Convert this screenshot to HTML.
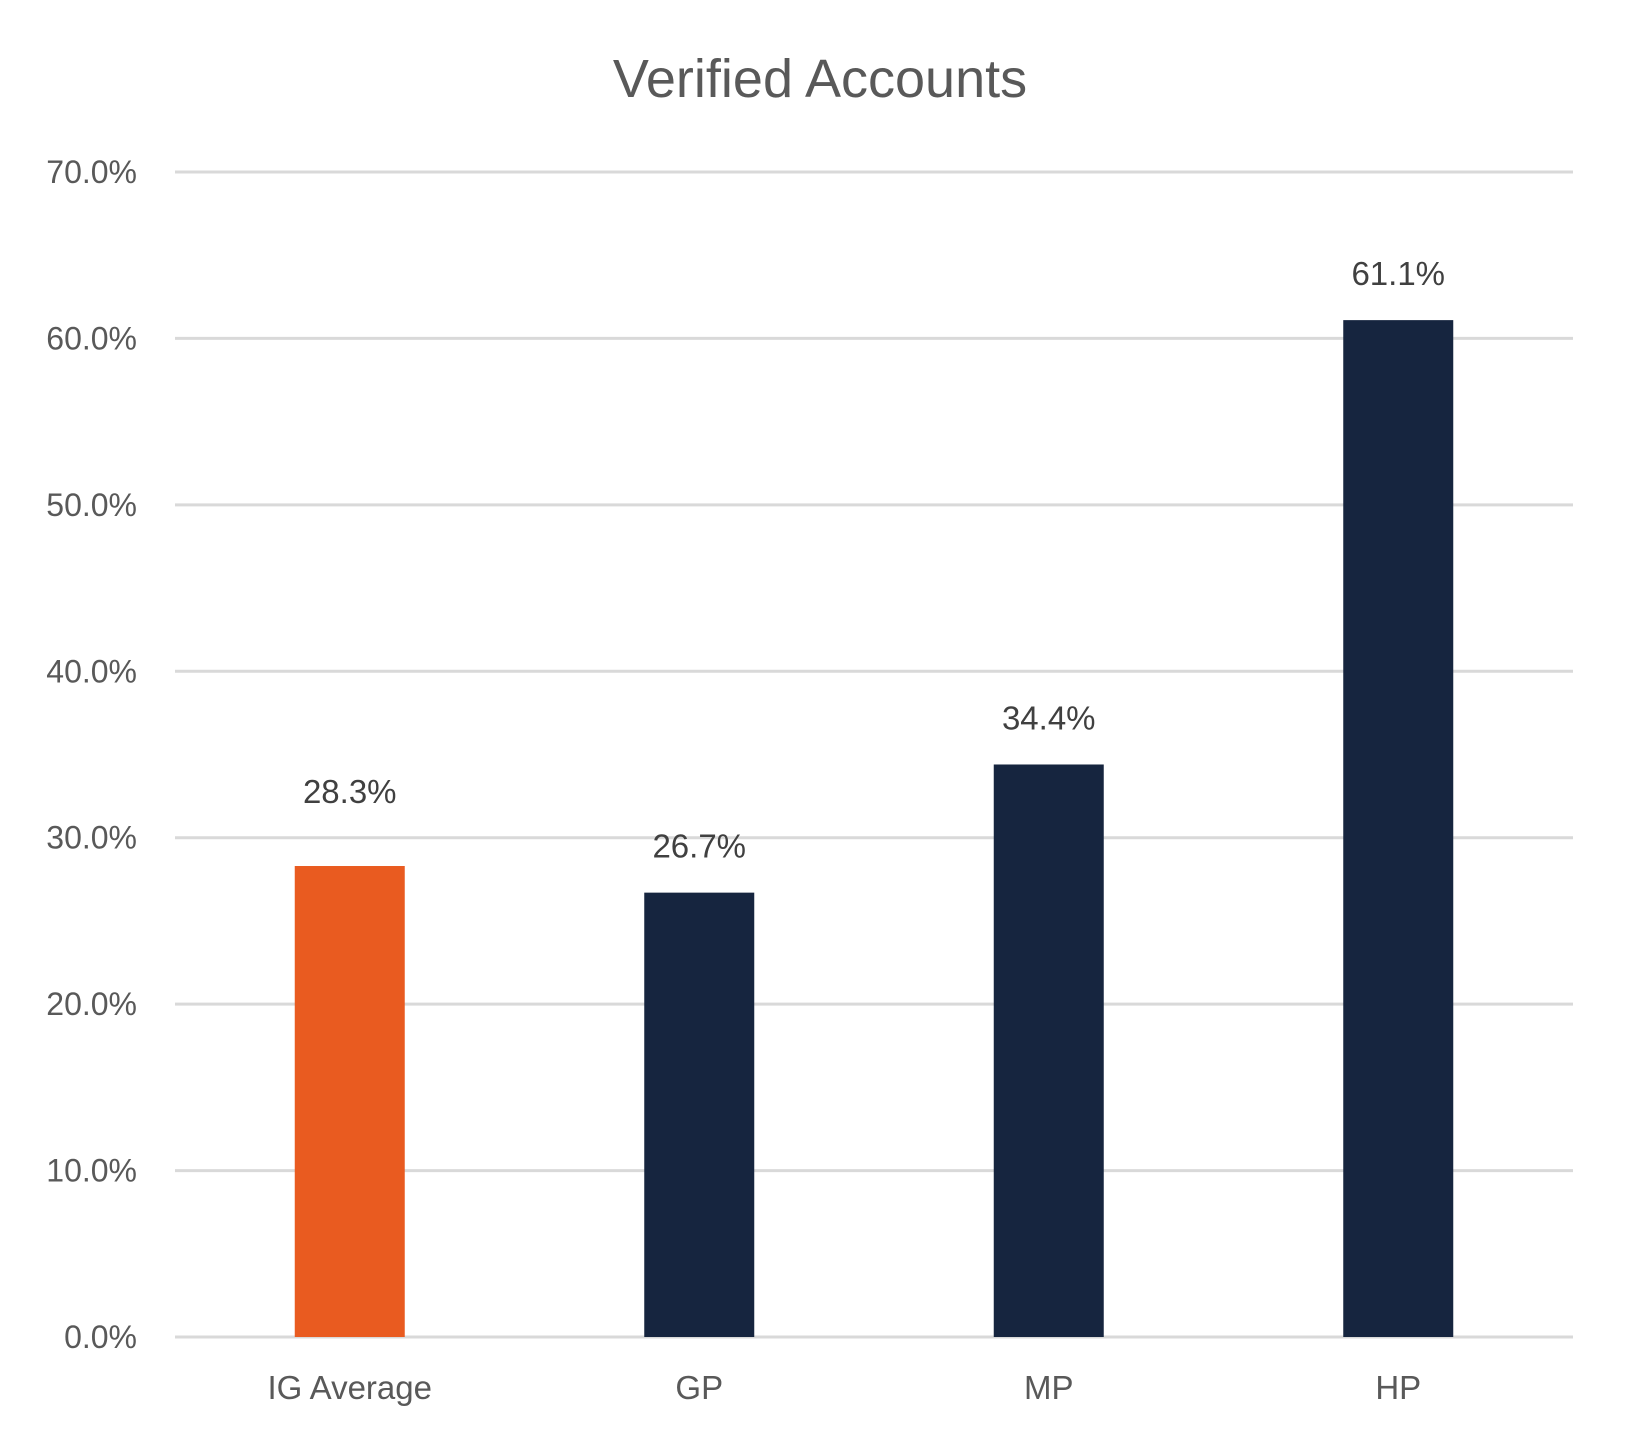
<!DOCTYPE html>
<html><head><meta charset="utf-8"><style>
body{margin:0;background:#fff;}
svg{display:block;font-family:"Liberation Sans","DejaVu Sans",sans-serif;}
</style></head><body>
<svg id="chart" width="1631" height="1448" viewBox="0 0 1631 1448" xmlns="http://www.w3.org/2000/svg">
<rect width="1631" height="1448" fill="#fff"/>
<text x="820" y="97" text-anchor="middle" font-size="54" fill="#595959">Verified Accounts</text>
<g id="grid"></g><g id="bars"></g><g id="labels"></g>
</svg>
<script>
const categories = ["IG Average", "GP", "MP", "HP"];
const values = [28.3, 26.7, 34.4, 61.1];
const valueLabels = ["28.3%", "26.7%", "34.4%", "61.1%"];
const barColors = ["#E95B20", "#16253F", "#16253F", "#16253F"];
const ticks = [0, 10, 20, 30, 40, 50, 60, 70];
const tickLabels = ["0.0%", "10.0%", "20.0%", "30.0%", "40.0%", "50.0%", "60.0%", "70.0%"];

const NS = "http://www.w3.org/2000/svg";
const plotL = 175, plotR = 1573, plotT = 172, plotB = 1337, yMax = 70;
const yScale = v => plotB - (v / yMax) * (plotB - plotT);
const band = (plotR - plotL) / categories.length;
const xc = i => plotL + band * (i + 0.5);
const bw = 110;
function mk(tag, attrs, parent) {
  const e = document.createElementNS(NS, tag);
  for (const k in attrs) e.setAttribute(k, attrs[k]);
  parent.appendChild(e);
  return e;
}
const gridG = document.getElementById("grid"), barsG = document.getElementById("bars"), labelsG = document.getElementById("labels");
ticks.forEach((t, i) => {
  const l = mk("line", {x1: plotL, x2: plotR, y1: yScale(t), y2: yScale(t), stroke: "#d9d9d9", "stroke-width": 3}, gridG);
  
  
  const tx = mk("text", {x: 137, y: yScale(t) + 11, "text-anchor": "end", "font-size": 32, fill: "#595959"}, labelsG);
  tx.textContent = tickLabels[i];
  
  
});
categories.forEach((c, i) => {
  const r = mk("rect", {x: xc(i) - bw / 2, y: yScale(values[i]), width: bw, height: plotB - yScale(values[i]), fill: barColors[i]}, barsG);
  
  
  const gap = i === 0 ? 63 : 35;
  const v = mk("text", {x: xc(i), y: yScale(values[i]) - gap, "text-anchor": "middle", "font-size": 33, fill: "#404040"}, labelsG);
  v.textContent = valueLabels[i];
  
  
  const cl = mk("text", {x: xc(i), y: 1399, "text-anchor": "middle", "font-size": 33, fill: "#595959"}, labelsG);
  cl.textContent = c;
  
  
});
</script>
</body></html>
